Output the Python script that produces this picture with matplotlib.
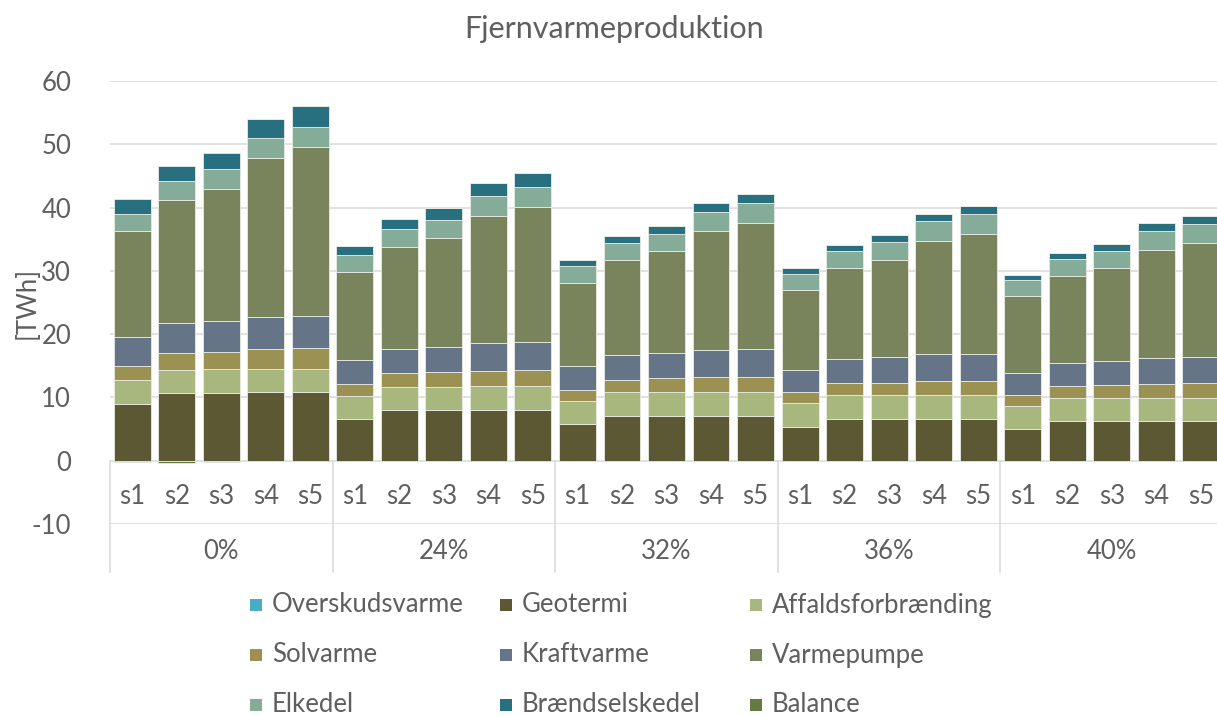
import numpy as np
import matplotlib.pyplot as plt
from matplotlib.patches import Rectangle

plt.rcParams['font.family'] = ['Lato', 'DejaVu Sans']
plt.rcParams['axes.unicode_minus'] = False

groups = ['0%', '24%', '32%', '36%', '40%']
scenarios = ['s1', 's2', 's3', 's4', 's5']

# TWh per scenario, groups in order 0%, 24%, 32%, 36%, 40%
overskudsvarme = [0.0] * 25
geotermi = [9.0, 10.7, 10.7, 10.9, 10.9,
            6.6, 8.0, 8.0, 8.0, 8.0,
            5.8, 7.1, 7.1, 7.1, 7.1,
            5.35, 6.6, 6.6, 6.6, 6.6,
            5.0, 6.3, 6.3, 6.3, 6.3]
affald = [3.7, 3.7, 3.75, 3.6, 3.6,
          3.6, 3.7, 3.7, 3.8, 3.8,
          3.65, 3.7, 3.7, 3.7, 3.7,
          3.75, 3.75, 3.75, 3.75, 3.75,
          3.65, 3.6, 3.6, 3.6, 3.6]
solvarme = [2.3, 2.6, 2.8, 3.2, 3.3,
            2.0, 2.2, 2.3, 2.45, 2.6,
            1.8, 2.0, 2.2, 2.4, 2.5,
            1.7, 1.9, 2.0, 2.2, 2.3,
            1.7, 1.9, 2.0, 2.25, 2.35]
kraftvarme = [4.5, 4.8, 4.75, 5.0, 5.1,
              3.7, 3.8, 4.0, 4.35, 4.4,
              3.75, 3.9, 4.0, 4.35, 4.4,
              3.55, 3.75, 4.0, 4.25, 4.25,
              3.45, 3.6, 3.8, 4.05, 4.1]
varmepumpe = [16.8, 19.4, 20.9, 25.1, 26.7,
              13.9, 16.0, 17.15, 20.1, 21.25,
              13.15, 15.0, 16.1, 18.75, 19.9,
              12.7, 14.45, 15.35, 17.9, 19.0,
              12.2, 13.8, 14.75, 17.1, 18.05]
elkedel = [2.75, 3.0, 3.15, 3.15, 3.2,
           2.7, 2.9, 2.95, 3.1, 3.15,
           2.55, 2.7, 2.8, 3.05, 3.1,
           2.45, 2.65, 2.8, 3.1, 3.05,
           2.5, 2.6, 2.7, 2.95, 2.95]
braendselskedel = [2.25, 2.4, 2.65, 3.1, 3.25,
                   1.5, 1.6, 1.8, 2.15, 2.3,
                   1.0, 1.1, 1.15, 1.3, 1.4,
                   0.95, 1.0, 1.1, 1.2, 1.35,
                   0.9, 1.0, 1.05, 1.25, 1.35]
balance = [-0.2, -0.3, -0.2, 0, 0] + [0.0] * 20

series = [
    ('Overskudsvarme', overskudsvarme, '#4bacc6'),
    ('Geotermi', geotermi, '#5d5834'),
    ('Affaldsforbrænding', affald, '#a8b77e'),
    ('Solvarme', solvarme, '#9b9153'),
    ('Kraftvarme', kraftvarme, '#657487'),
    ('Varmepumpe', varmepumpe, '#7a845c'),
    ('Elkedel', elkedel, '#85ab99'),
    ('Brændselskedel', braendselskedel, '#287080'),
    ('Balance', balance, '#667a44'),
]

text_col = '#5f5f5f'
grid_col = '#d9d9d9'
fs = 18.5

fig = plt.figure(figsize=(12.17, 7.16), dpi=100)
ax = fig.add_axes([110 / 1217, 1 - 524 / 716, 1113 / 1217, 443 / 716])

x = np.arange(len(groups) * len(scenarios))
pos_base = np.zeros(len(x))
neg_base = np.zeros(len(x))
for name, vals, col in series:
    v = np.array(vals, dtype=float)
    base = np.where(v >= 0, pos_base, neg_base)
    ax.bar(x, v, 0.83, bottom=base, color=col, edgecolor='#e8ebe4',
           linewidth=0.6, zorder=3)
    pos_base += np.clip(v, 0, None)
    neg_base += np.clip(v, None, 0)

ax.set_xlim(-0.5, len(x) - 0.5)
ax.set_ylim(-10, 60)
ax.set_yticks(range(-10, 61, 10))
for s in ax.spines.values():
    s.set_visible(False)
ax.grid(True, axis='y', color=grid_col, linewidth=1.1, zorder=0)
ax.tick_params(axis='y', length=0, pad=28, labelsize=fs, labelcolor=text_col)
ax.set_xticks([])
ax.set_ylabel('[TWh]', fontsize=fs, color=text_col)
ax.yaxis.set_label_coords(-70 / 1113, 0.5)

# two-level category axis: scenario labels, then group labels
for i, xi in enumerate(x):
    ax.text(xi, -5.6, scenarios[i % len(scenarios)], ha='center', va='center',
            fontsize=fs, color=text_col)
for g, name in enumerate(groups):
    ax.text(g * len(scenarios) + 2, -14.4, name, ha='center', va='center',
            fontsize=fs, color=text_col, clip_on=False)
for g in range(len(groups) + 1):
    xb = g * len(scenarios) - 0.5
    ax.plot([xb, xb], [0, -17.6], color=grid_col, linewidth=1.1,
            clip_on=False, zorder=1)

fig.text(614 / 1217, 1 - 29 / 716, 'Fjernvarmeproduktion', ha='center',
         va='center', fontsize=22, color=text_col)

# legend, three entries per row
for k, (name, vals, col) in enumerate(series):
    r, c = divmod(k, 3)
    lx = (250 + 250 * c) / 1217
    ly = 1 - (605 + 50 * r) / 716
    fig.patches.append(Rectangle((lx, ly - 6 / 716), 12 / 1217, 12 / 716,
                                 transform=fig.transFigure, facecolor=col,
                                 edgecolor='none'))
    fig.text(lx + 22 / 1217, ly, name, ha='left', va='center',
             fontsize=fs, color=text_col)

fig.savefig('out.png', dpi=100)
